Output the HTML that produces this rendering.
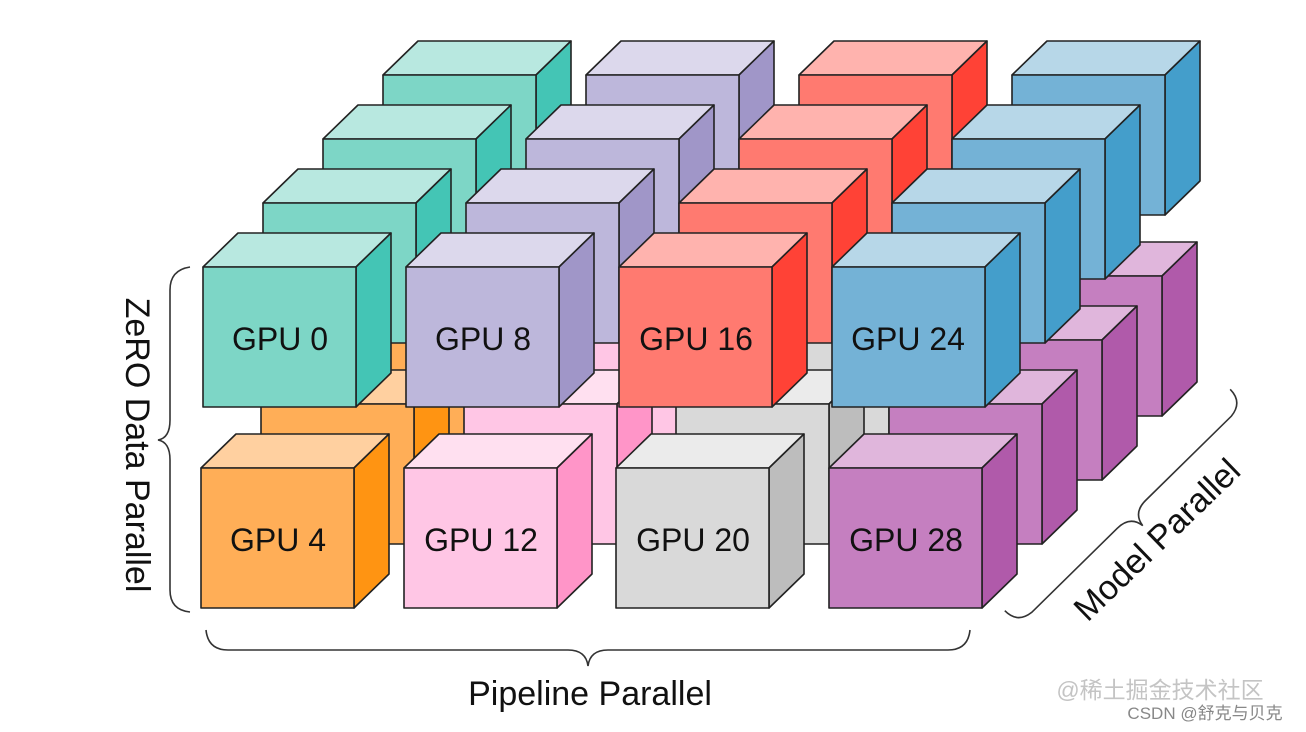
<!DOCTYPE html>
<html><head><meta charset="utf-8"><style>
html,body{margin:0;padding:0;background:#fff;}
svg{display:block;}
text{font-family:"Liberation Sans","Noto Sans CJK SC",sans-serif;}
</style></head><body>
<svg id="s" width="1306" height="732" viewBox="0 0 1306 732" xmlns="http://www.w3.org/2000/svg">
<g id="cubes" stroke="#222" stroke-width="1.6" stroke-linejoin="round"></g>
<g font-size="32" fill="#111" text-anchor="middle">
<text x="280" y="350">GPU 0</text>
<text x="483" y="350">GPU 8</text>
<text x="696" y="350">GPU 16</text>
<text x="908" y="350">GPU 24</text>
<text x="278" y="551">GPU 4</text>
<text x="481" y="551">GPU 12</text>
<text x="693" y="551">GPU 20</text>
<text x="906" y="551">GPU 28</text>
</g>
<g fill="none" stroke="#333" stroke-width="1.6">
<path d="M190,267 Q170,270 170,290 L170,420 Q170,438 158,440 Q170,442 170,460 L170,590 Q170,610 190,612"/>
<path d="M206,630 Q208,650 228,650 L568,650 Q586,650 588,666 Q590,650 608,650 L948,650 Q968,650 970,630"/>
<g transform="translate(1117.5,500) rotate(-44.5)">
<path d="M-158,0 Q-158,18 -140,20 L-20,20 Q-2,20 0,36 Q2,20 20,20 L140,20 Q158,18 158,0"/>
</g>
</g>
<text x="126" y="445" font-size="34" fill="#111" text-anchor="middle" transform="rotate(90 126 445)">ZeRO Data Parallel</text>
<text x="590" y="705" font-size="34" fill="#111" text-anchor="middle">Pipeline Parallel</text>
<text x="1165" y="548" font-size="34" fill="#111" text-anchor="middle" transform="rotate(-44 1165 548)">Model Parallel</text>
<text x="1160" y="698" font-size="23" fill="#c4c4c4" text-anchor="middle">@稀土掘金技术社区</text>
<text x="1205" y="719" font-size="17" fill="#888" text-anchor="middle">CSDN @舒克与贝克</text>
</svg>
<script>
(function(){
var g=document.getElementById('cubes');
var top=[["#7dd6c6","#b8e8e0","#44c5b5"],["#bdb7db","#dcd8ec","#a096c8"],["#ff7a70","#ffb3ae","#ff4236"],["#74b2d6","#b7d7e8","#449ecb"]];
var bot=[["#ffae57","#ffd0a0","#ff9412"],["#ffc6e5","#ffe0f0","#ff95c8"],["#d9d9d9","#ebebeb","#bdbdbd"],["#c57fc0","#e0b6dc","#b05aaa"]];
var tx=[203,406,619,832], bx=[201,404,616,829];
var w=153,h=140,dx=35,dy=34;
var ns="http://www.w3.org/2000/svg";
function poly(pts,f){var p=document.createElementNS(ns,'polygon');p.setAttribute('points',pts.map(function(a){return a.join(',')}).join(' '));p.setAttribute('fill',f);g.appendChild(p);}
function cube(x,y,c){
poly([[x,y],[x+dx,y-dy],[x+w+dx,y-dy],[x+w,y]],c[1]);
poly([[x+w,y],[x+w+dx,y-dy],[x+w+dx,y+h-dy],[x+w,y+h]],c[2]);
poly([[x,y],[x+w,y],[x+w,y+h],[x,y+h]],c[0]);
}
for(var L=3;L>=0;L--){
for(var i=0;i<4;i++) cube(bx[i]+60*L,468-64*L,bot[i]);
for(var i=0;i<4;i++) cube(tx[i]+60*L,267-64*L,top[i]);
}
})();
</script>
</body></html>
